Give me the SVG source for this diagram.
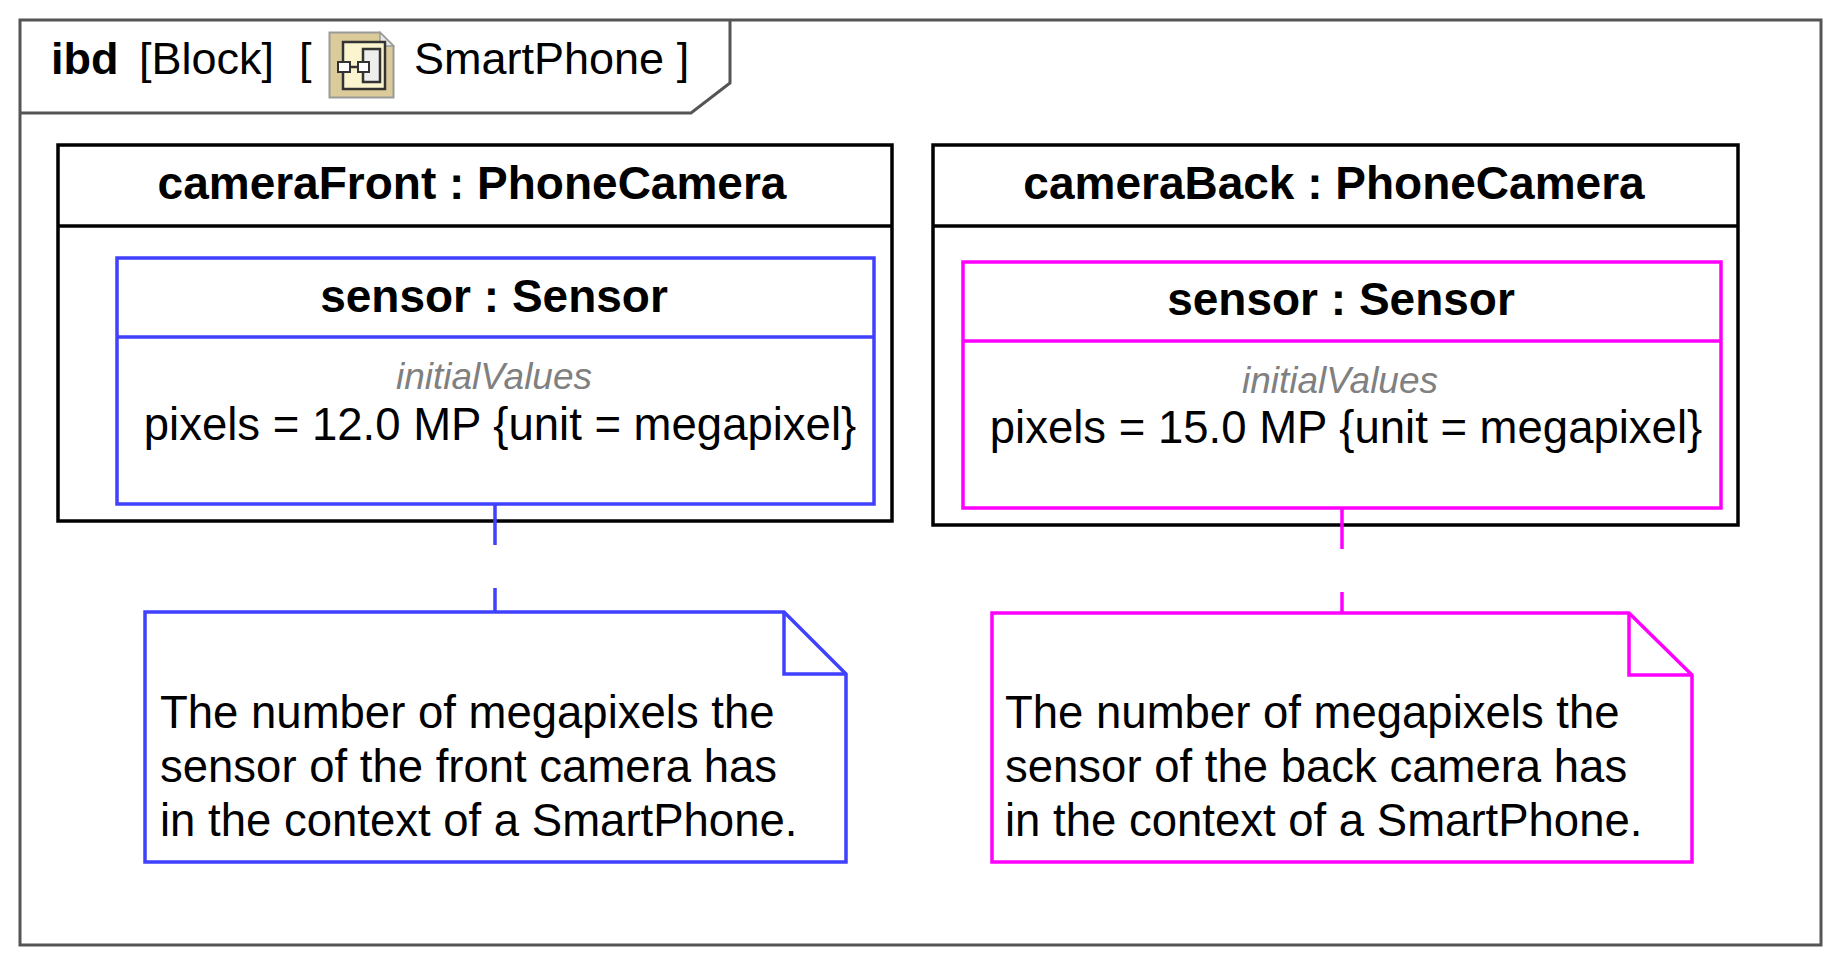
<svg xmlns="http://www.w3.org/2000/svg" width="1842" height="967" viewBox="0 0 1842 967">
<style>
text { font-family: "Liberation Sans", Arial, sans-serif; fill: #000; }
.title { font-weight: bold; font-size: 46px; text-anchor: middle; }
.iv { font-style: italic; font-size: 37px; fill: #808080; text-anchor: middle; }
.val { font-size: 45.5px; text-anchor: middle; }
.note { font-size: 45.5px; }
.tab { font-size: 45px; }
.blk { fill: #fff; stroke: #000; stroke-width: 3.5; }
.blue { stroke: #4040ff; stroke-width: 3.5; fill: none; }
.mag { stroke: #ff00ff; stroke-width: 3.5; fill: none; }
.frame { fill: none; stroke: #555; stroke-width: 3; }
</style>
<rect width="1842" height="967" fill="#fff"/>
<g id="frame">
<rect class="frame" x="20" y="20" width="1801" height="925"/>
<path class="frame" d="M20 113 H691 L730 83 V20"/>
<text class="tab" x="51" y="74" style="font-weight:bold">ibd</text>
<text class="tab" x="139" y="74">[Block]</text>
<text class="tab" x="299" y="74">[</text>
<g id="icon">
<path d="M329.5 32.5 H380 L393.5 46 V97.5 H329.5 Z" fill="#dccb9a" stroke="#9a9a9a" stroke-width="2"/>
<path d="M380 32.5 V46 H393.5 Z" fill="#e8e8e8" stroke="#9a9a9a" stroke-width="1.5"/>
<rect x="343" y="42" width="42" height="47" fill="#fbf5cf" stroke="#333" stroke-width="2.5"/>
<rect x="363" y="49" width="17" height="33" fill="#eeeeee" stroke="#333" stroke-width="2.5"/>
<line x1="350" y1="67" x2="358" y2="67" stroke="#333" stroke-width="2.5"/>
<rect x="338" y="62" width="12" height="10" fill="#fff" stroke="#333" stroke-width="2"/>
<rect x="358" y="62" width="11" height="10" fill="#fff" stroke="#333" stroke-width="2"/>
</g>
<text class="tab" x="414" y="74">SmartPhone ]</text>
</g>
<g id="cameraFront">
<rect class="blk" x="58" y="145" width="834" height="376"/>
<line x1="58" y1="226" x2="892" y2="226" stroke="#000" stroke-width="3.5"/>
<text class="title" x="472" y="199">cameraFront : PhoneCamera</text>
</g>
<g id="cameraFront-sensor">
<rect x="117" y="258" width="757" height="246" fill="#fff" class="blue"/>
<line class="blue" x1="117" y1="337" x2="874" y2="337"/>
<text class="title" x="494" y="312">sensor : Sensor</text>
<text class="iv" x="494" y="389">initialValues</text>
<text class="val" x="500" y="440">pixels = 12.0 MP {unit = megapixel}</text>
</g>
<g id="cameraBack">
<rect class="blk" x="933" y="145" width="805" height="380"/>
<line x1="933" y1="226" x2="1738" y2="226" stroke="#000" stroke-width="3.5"/>
<text class="title" x="1334" y="199">cameraBack : PhoneCamera</text>
</g>
<g id="cameraBack-sensor">
<rect x="963" y="262" width="758" height="246" fill="#fff" class="mag"/>
<line class="mag" x1="963" y1="341" x2="1721" y2="341"/>
<text class="title" x="1341" y="315">sensor : Sensor</text>
<text class="iv" x="1340" y="393">initialValues</text>
<text class="val" x="1346" y="443">pixels = 15.0 MP {unit = megapixel}</text>
</g>
<g id="connectors">
<line class="blue" x1="495" y1="504" x2="495" y2="612" stroke-dasharray="41 43"/>
<line class="mag" x1="1342" y1="508" x2="1342" y2="613" stroke-dasharray="41 43"/>
</g>
<g id="noteFront">
<path d="M145 612 H784 L846 674 V862 H145 Z" fill="#fff" class="blue"/>
<path class="blue" d="M784 612 V674 H846"/>
<text class="note" x="160" y="728">The number of megapixels the</text>
<text class="note" x="160" y="782">sensor of the front camera has</text>
<text class="note" x="160" y="836">in the context of a SmartPhone.</text>
</g>
<g id="noteBack">
<path d="M992 613 H1629 L1692 675 V862 H992 Z" fill="#fff" class="mag"/>
<path class="mag" d="M1629 613 V675 H1692"/>
<text class="note" x="1005" y="728">The number of megapixels the</text>
<text class="note" x="1005" y="782">sensor of the back camera has</text>
<text class="note" x="1005" y="836">in the context of a SmartPhone.</text>
</g>
</svg>
